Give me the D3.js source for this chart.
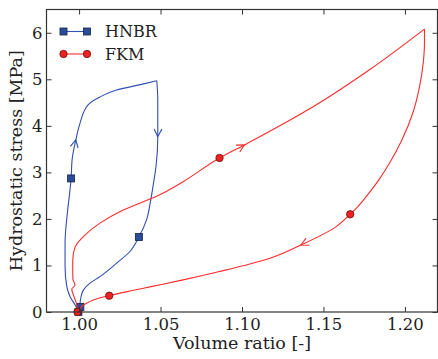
<!DOCTYPE html>
<html>
<head>
<meta charset="utf-8">
<script src="https://cdn.jsdelivr.net/npm/d3@7"></script>
<style>
  body { margin: 0; background: #fff; }
  svg { display: block; font-family: "DejaVu Serif", serif; }
</style>
</head>
<body>
<svg id="chart" width="438" height="359"></svg>
<script>
// HNBR: loading (left branch, going up) and unloading (right branch, going down)
const hnbrLoadX = [1.0000, 0.9996, 0.9976, 0.9945, 0.9925, 0.9914, 0.9914, 0.9930, 0.9942, 0.9951, 0.9957, 0.9980, 1.0006, 1.0055, 1.0128, 1.0230, 1.0370, 1.0477];
const hnbrLoadY = [0.00, 0.02, 0.15, 0.33, 0.54, 0.97, 1.48, 2.19, 2.55, 2.87, 3.27, 3.70, 4.06, 4.45, 4.62, 4.77, 4.88, 4.97];
const hnbrUnloadX = [1.0477, 1.0483, 1.0483, 1.0472, 1.0460, 1.0440, 1.0414, 1.0367, 1.0312, 1.0231, 1.0128, 1.0067, 1.0026, 1.0010, 1.0006, 1.0008];
const hnbrUnloadY = [4.97, 4.56, 3.77, 3.12, 2.84, 2.41, 1.98, 1.61, 1.30, 1.05, 0.76, 0.62, 0.47, 0.29, 0.19, 0.11];
const hnbrMarkX = [0.9996, 0.9951, 1.0367, 1.0008];
const hnbrMarkY = [0.00, 2.87, 1.61, 0.11];

// FKM
const fkmLoadX = [0.9990, 0.9986, 0.9965, 0.9955, 0.9975, 0.9962, 0.9961, 0.9961, 0.9976, 1.0026, 1.0128, 1.0271, 1.0495, 1.0638, 1.0862, 1.1015, 1.1474, 1.1780, 1.2120];
const fkmLoadY = [0.00, 0.15, 0.37, 0.49, 0.58, 0.71, 0.90, 1.12, 1.40, 1.62, 1.91, 2.19, 2.52, 2.80, 3.31, 3.59, 4.49, 5.20, 6.08];
const fkmUnloadX = [1.2120, 1.2120, 1.2110, 1.2090, 1.2048, 1.1982, 1.1906, 1.1840, 1.1778, 1.1710, 1.1664, 1.1576, 1.1362, 1.1168, 1.0862, 1.0638, 1.0434, 1.0312, 1.0185, 1.0088, 1.0037, 1.0006, 0.9995];
const fkmUnloadY = [6.08, 5.78, 5.28, 4.85, 4.27, 3.70, 3.20, 2.84, 2.55, 2.26, 2.10, 1.83, 1.44, 1.15, 0.87, 0.69, 0.54, 0.45, 0.35, 0.26, 0.17, 0.08, 0.02];
const fkmMarkX = [0.9990, 1.0862, 1.1664, 1.0185];
const fkmMarkY = [0.00, 3.31, 2.10, 0.35];

// arrow heads: which path and which point index
const hnbrArrows = [["load", 11], ["unload", 2]];
const fkmArrows = [["load", 15], ["unload", 12]];

const xTicks = [1.00, 1.05, 1.10, 1.15, 1.20];
const yTicks = [0, 1, 2, 3, 4, 5, 6];

const svg = d3.select("#chart");
const m = { left: 46.5, right: 437.5, top: 9.5, bottom: 312 };

const x = d3.scaleLinear().domain([0.98, 1.22]).range([m.left, m.right]);
const y = d3.scaleLinear().domain([0, 6.5]).range([m.bottom, m.top]);

const zip = (xs, ys) => xs.map((v, i) => [v, ys[i]]);
// every branch is monotone in stress, so a y-monotone spline keeps it smooth
const line = d3.line().x(d => x(d[0])).y(d => y(d[1])).curve(d3.curveMonotoneY);

const series = [
  { name: "HNBR", color: "#2f4fb3", fill: "#2b4b9b", edge: "#142244", shape: "square",
    load: zip(hnbrLoadX, hnbrLoadY), unload: zip(hnbrUnloadX, hnbrUnloadY),
    marks: zip(hnbrMarkX, hnbrMarkY), arrows: hnbrArrows },
  { name: "FKM", color: "#ff2a2a", fill: "#ee2020", edge: "#6a1010", shape: "circle",
    load: zip(fkmLoadX, fkmLoadY), unload: zip(fkmUnloadX, fkmUnloadY),
    marks: zip(fkmMarkX, fkmMarkY), arrows: fkmArrows }
];

const plot = svg.append("g");

function drawMarker(g, s, px, py) {
  if (s.shape === "square") {
    g.append("rect").attr("x", px - 3.5).attr("y", py - 3.5).attr("width", 7).attr("height", 7)
      .attr("fill", s.fill).attr("stroke", s.edge).attr("stroke-width", 0.8);
  } else {
    g.append("circle").attr("cx", px).attr("cy", py).attr("r", 3.7)
      .attr("fill", s.fill).attr("stroke", s.edge).attr("stroke-width", 0.8);
  }
}

series.forEach(s => {
  ["load", "unload"].forEach(k => {
    plot.append("path").attr("d", line(s[k])).attr("fill", "none")
      .attr("stroke", s.color).attr("stroke-width", 1.1);
  });
  // open chevron arrow heads along the curve
  s.arrows.forEach(([k, i]) => {
    const pts = s[k];
    const p = pts[i], a = pts[i - 1], b = pts[i + 1];
    const ang = Math.atan2(y(b[1]) - y(a[1]), x(b[0]) - x(a[0]));
    const tx = x(p[0]), ty = y(p[1]), L = 8.5, w = Math.PI / 6.5;
    const p1 = [tx - L * Math.cos(ang - w), ty - L * Math.sin(ang - w)];
    const p2 = [tx - L * Math.cos(ang + w), ty - L * Math.sin(ang + w)];
    plot.append("path").attr("d", `M${p1}L${tx},${ty}L${p2}`)
      .attr("fill", "none").attr("stroke", s.color).attr("stroke-width", 1.1);
  });
  s.marks.forEach(p => drawMarker(plot, s, x(p[0]), y(p[1])));
});

// axes, ticks inward on all sides
const fmt = d3.format(".2f");
const axB = svg.append("g").attr("transform", `translate(0,${m.bottom})`)
  .call(d3.axisBottom(x).tickValues(xTicks).tickFormat(fmt).tickSizeInner(-5).tickSizeOuter(0).tickPadding(6));
const axT = svg.append("g").attr("transform", `translate(0,${m.top})`)
  .call(d3.axisTop(x).tickValues(xTicks).tickFormat("").tickSizeInner(-5).tickSizeOuter(0));
const axL = svg.append("g").attr("transform", `translate(${m.left},0)`)
  .call(d3.axisLeft(y).tickValues(yTicks).tickFormat(d3.format("d")).tickSizeInner(-5).tickSizeOuter(0).tickPadding(4));
const axR = svg.append("g").attr("transform", `translate(${m.right},0)`)
  .call(d3.axisRight(y).tickValues(yTicks).tickFormat("").tickSizeInner(-5).tickSizeOuter(0));

[axB, axT, axL, axR].forEach(a => {
  a.select(".domain").remove();
  a.selectAll(".tick line").attr("stroke", "#333");
  a.selectAll("text").attr("font-family", "DejaVu Serif").attr("font-size", 16.5).attr("fill", "#222");
});

svg.append("rect").attr("x", m.left).attr("y", m.top).attr("width", m.right - m.left).attr("height", m.bottom - m.top)
  .attr("fill", "none").attr("stroke", "#333").attr("stroke-width", 1.2);

svg.append("text").attr("x", (m.left + m.right) / 2).attr("y", 349).attr("text-anchor", "middle")
  .attr("font-size", 17.5).attr("fill", "#222").text("Volume ratio [-]");
svg.append("text").attr("transform", `translate(21.5,${(m.top + m.bottom) / 2}) rotate(-90)`)
  .attr("text-anchor", "middle").attr("font-size", 17.5).attr("fill", "#222").text("Hydrostatic stress [MPa]");

// legend (no frame)
const leg = svg.append("g");
series.forEach((s, i) => {
  const ly = 31.5 + i * 22.5;
  leg.append("line").attr("x1", 63.5).attr("x2", 87).attr("y1", ly).attr("y2", ly)
    .attr("stroke", s.color).attr("stroke-width", 1.1);
  drawMarker(leg, s, 63.5, ly);
  drawMarker(leg, s, 87, ly);
  leg.append("text").attr("x", 105).attr("y", ly + 5.5).attr("font-size", 16).attr("fill", "#222").text(s.name);
});
</script>
</body>
</html>
